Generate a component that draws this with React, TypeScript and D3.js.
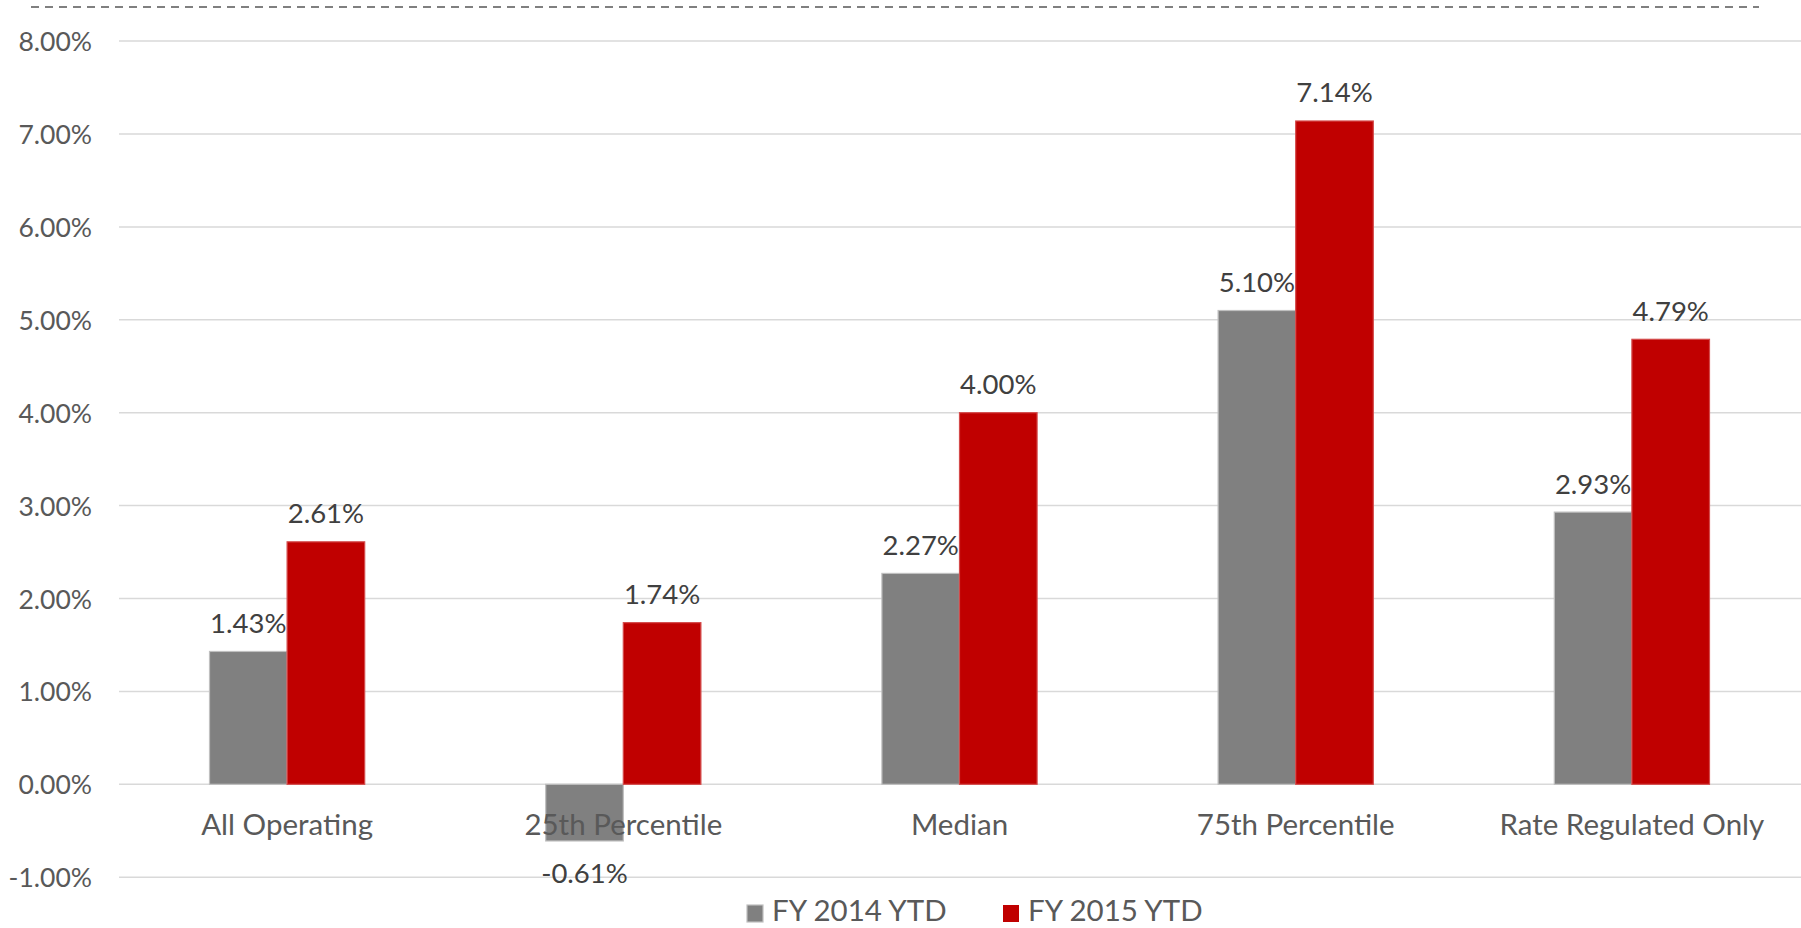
import React from "react";
import * as d3 from "d3";

const categories = ["All Operating", "25th Percentile", "Median", "75th Percentile", "Rate Regulated Only"];
const seriesNames = ["FY 2014 YTD", "FY 2015 YTD"];
const fy2014 = [1.43, -0.61, 2.27, 5.1, 2.93];
const fy2015 = [2.61, 1.74, 4.0, 7.14, 4.79];
const yTicks = [-1, 0, 1, 2, 3, 4, 5, 6, 7, 8];
const seriesColors = ["#808080", "#C00000"];
const seriesStrokes = ["#bfbfbf", "#d44a4a"];

const W = 1801;
const H = 928;
const FONT = "Lato, 'Open Sans', sans-serif";

export default function App() {
  const x0 = d3
    .scaleBand<string>()
    .domain(categories)
    .range([119, 1800])
    .paddingInner(0.5384)
    .paddingOuter(0.2692);
  const x1 = d3.scaleBand<string>().domain(seriesNames).range([0, x0.bandwidth()]);
  const y = d3.scaleLinear().domain([-1, 8]).range([877.2, 41.1]);
  const fmt = (v: number) => d3.format(".2f")(v).replace("\u2212", "-") + "%";
  const data = [fy2014, fy2015];
  const legendX = [747, 1003];

  return (
    <svg
      width={W}
      height={H}
      style={{ position: "absolute", left: 0, top: 0, background: "#fff" }}
      fontFamily={FONT}
    >
      <line x1={31} x2={1759} y1={7} y2={7} stroke="#808080" strokeWidth={2} strokeDasharray="8 6" />
      {yTicks.map((t) => (
        <g key={t}>
          <line x1={119} x2={1801} y1={y(t)} y2={y(t)} stroke="#d9d9d9" strokeWidth={1.5} />
          <text x={92} y={y(t) + 10} textAnchor="end" fontSize={26.5} fill="#595959">
            {fmt(t)}
          </text>
        </g>
      ))}
      {categories.map((c, i) => (
        <g key={c}>
          {seriesNames.map((s, si) => {
            const v = data[si][i];
            const bx = (x0(c) as number) + (x1(s) as number);
            const bw = x1.bandwidth();
            const top = Math.min(y(v), y(0));
            const h = Math.abs(y(v) - y(0));
            return (
              <rect
                key={s}
                x={bx}
                y={top}
                width={bw}
                height={h}
                fill={seriesColors[si]}
                stroke={seriesStrokes[si]}
                strokeWidth={1.2}
              />
            );
          })}
        </g>
      ))}
      {categories.map((c) => (
        <text
          key={c}
          x={(x0(c) as number) + x0.bandwidth() / 2}
          y={835}
          textAnchor="middle"
          fontSize={29.5}
          fill="#595959"
        >
          {c}
        </text>
      ))}
      {categories.map((c, i) =>
        seriesNames.map((s, si) => {
          const v = data[si][i];
          const cx = (x0(c) as number) + (x1(s) as number) + x1.bandwidth() / 2;
          const ly = v >= 0 ? y(v) - 18.5 : y(v) + 42;
          return (
            <text key={c + s} x={cx} y={ly} textAnchor="middle" fontSize={27.5} fill="#404040">
              {fmt(v)}
            </text>
          );
        })
      )}
      {seriesNames.map((s, si) => (
        <g key={s}>
          <rect
            x={legendX[si]}
            y={905}
            width={16}
            height={17}
            fill={seriesColors[si]}
            stroke={si === 0 ? seriesStrokes[0] : "none"}
            strokeWidth={1.2}
          />
          <text x={legendX[si] + 25} y={921} fontSize={29.5} fill="#595959">
            {s}
          </text>
        </g>
      ))}
    </svg>
  );
}
